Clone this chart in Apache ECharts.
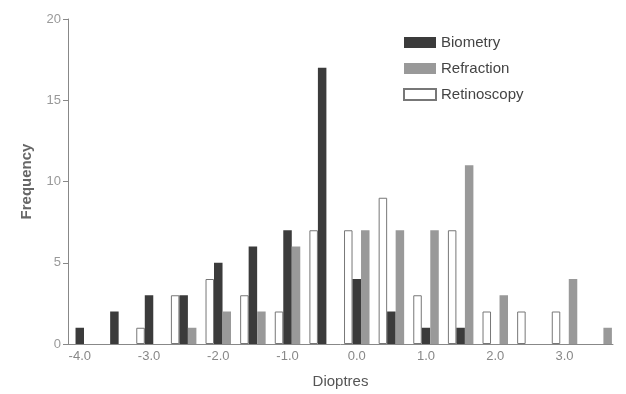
<!DOCTYPE html>
<html>
<head>
<meta charset="utf-8">
<script src="https://cdn.jsdelivr.net/npm/echarts@6/dist/echarts.min.js"></script>
<style>
  html, body { margin: 0; padding: 0; background: #fff; }
  #chart { width: 626px; height: 394px; }
</style>
</head>
<body>
<div id="chart"></div>
<script>
// bin centres (dioptres)
var bins = [-4.0, -3.5, -3.0, -2.5, -2.0, -1.5, -1.0, -0.5, 0.0, 0.5, 1.0, 1.5, 2.0, 2.5, 3.0, 3.5];
var biometry    = [1, 2, 3, 3, 5, 6, 7, 17, 4, 2, 1, 1, 0, 0, 0, 0];
var refraction  = [0, 0, 0, 1, 2, 2, 6, 0, 7, 7, 7, 11, 3, 0, 4, 1];
var retinoscopy = [0, 0, 1, 3, 4, 3, 2, 7, 7, 9, 3, 7, 2, 2, 2, 0];
var xTicks = [-4, -3, -2, -1, 0, 1, 2, 3];

function pairs(vals) {
  var out = [];
  bins.forEach(function (b, i) {
    if (vals[i] > 0) out.push([b, vals[i]]);
  });
  return out;
}

var chart = echarts.init(document.getElementById("chart"));
var font = "Liberation Sans, Arial, sans-serif";

var option = {
  animation: false,
  backgroundColor: "#fff",
  legend: {
    orient: "vertical",
    left: 398,
    top: 30,
    icon: "rect",
    itemWidth: 32,
    itemHeight: 11,
    itemGap: 11,
    data: ["Biometry", "Refraction", "Retinoscopy"],
    textStyle: { fontFamily: font, fontSize: 15, color: "#444" }
  },
  grid: { left: 68, right: 13, top: 19, bottom: 48 },
  xAxis: {
    type: "value",
    min: -4.17,
    max: 3.7,
    name: "Dioptres",
    nameLocation: "middle",
    nameGap: 30,
    nameTextStyle: { fontFamily: font, fontSize: 15, color: "#555" },
    axisLine: { show: true, onZero: false, lineStyle: { color: "#888", width: 1 } },
    axisTick: { show: false },
    splitLine: { show: false },
    axisLabel: {
      customValues: xTicks,
      formatter: function (v) { return v.toFixed(1); },
      fontFamily: font,
      fontSize: 13,
      color: "#888",
      margin: 6
    }
  },
  yAxis: {
    type: "value",
    min: 0,
    max: 20,
    interval: 5,
    name: "Frequency",
    nameLocation: "middle",
    nameGap: 34,
    nameTextStyle: { fontFamily: font, fontSize: 15, color: "#666", fontWeight: "bold" },
    axisLine: { show: true, onZero: false, lineStyle: { color: "#888", width: 1 } },
    axisTick: { show: true, length: 5, lineStyle: { color: "#888" } },
    splitLine: { show: false },
    axisLabel: { fontFamily: font, fontSize: 13, color: "#999", margin: 7 }
  },
  series: [
    {
      name: "Retinoscopy",
      type: "bar",
      barWidth: 8.5,
      barGap: "0%",
      itemStyle: { color: "#fff", borderColor: "#777", borderWidth: 1 },
      data: pairs(retinoscopy)
    },
    {
      name: "Biometry",
      type: "bar",
      barWidth: 8.5,
      barGap: "0%",
      itemStyle: { color: "#3b3b3b" },
      data: pairs(biometry)
    },
    {
      name: "Refraction",
      type: "bar",
      barWidth: 8.5,
      barGap: "0%",
      itemStyle: { color: "#999" },
      data: pairs(refraction)
    }
  ]
};

chart.setOption(option);
</script>
</body>
</html>
